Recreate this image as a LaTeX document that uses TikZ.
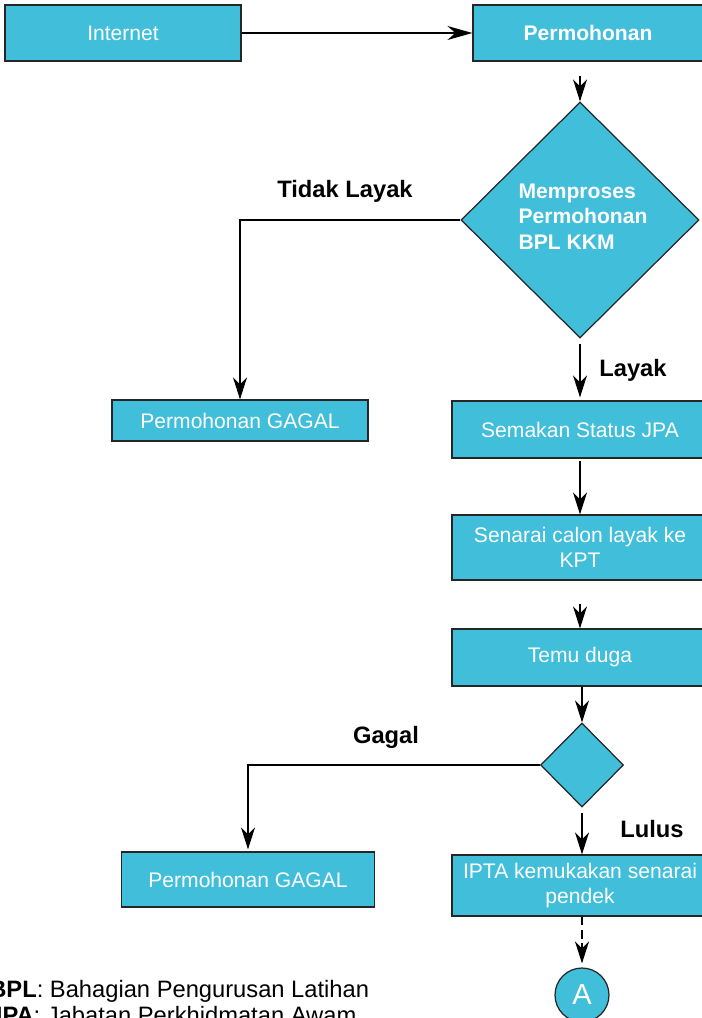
\documentclass[tikz,border=0pt]{standalone}
\usepackage{fontspec}
\setmainfont{Liberation Sans}
\usepackage{tikz}
\usetikzlibrary{shapes.geometric, arrows.meta}
\definecolor{boxcyan}{RGB}{64,190,218}

\begin{document}
\begin{tikzpicture}[x=0.02cm, y=-0.02cm,
  box/.style={draw=black!85, line width=0.7pt, fill=boxcyan, text=white, align=center, inner sep=0pt, font=\fontsize{12}{14.4}\selectfont},
  choice/.style={diamond, draw=black!85, line width=0.7pt, fill=boxcyan, text=white, inner sep=0pt},
  lbl/.style={font=\fontsize{13.5}{16}\selectfont\bfseries},
  key/.style={anchor=base west, inner sep=0pt, font=\fontsize{13.5}{16}\selectfont},
  arr/.style={-{Stealth[length=0.44cm, width=0.28cm, inset=0.14cm]}, line width=0.7pt, black}]
\useasboundingbox (0,0) rectangle (701,1018);
\node [box, minimum width=4.72cm, minimum height=1.12cm] (internet) at (123,33) {Internet};
\node [box, minimum width=4.6cm, minimum height=1.12cm, font=\fontsize{12}{14.4}\selectfont\bfseries] (perm) at (588,33) {Permohonan};
\node [choice, minimum width=4.76cm, minimum height=4.72cm, align=left, font=\fontsize{12}{14.4}\selectfont\bfseries] (proses) at (580,220) {\hspace*{0.12cm}Memproses\\\hspace*{0.12cm}Permohonan\\\hspace*{0.12cm}BPL KKM\rule[-0.14cm]{0pt}{0pt}};
\node [lbl] (tidak) at (345,191) {Tidak Layak};
\node [box, minimum width=5.12cm, minimum height=0.82cm] (gagalA) at (240,420.5) {Permohonan GAGAL};
\node [lbl] (layak) at (633,370) {Layak};
\node [box, minimum width=5.12cm, minimum height=1.14cm] (semak) at (580,429.5) {Semakan Status JPA};
\node [box, minimum width=5.12cm, minimum height=1.3cm] (senarai) at (580,547.5) {Senarai calon layak ke\\KPT};
\node [box, minimum width=5.12cm, minimum height=1.14cm] (temu) at (580,657.5) {Temu duga};
\node [choice, minimum width=1.66cm, minimum height=1.68cm] (cek) at (582,765) {};
\node [lbl] (gagal) at (386,737) {Gagal};
\node [box, minimum width=5.06cm, minimum height=1.1cm] (gagalB) at (248,879.5) {Permohonan GAGAL};
\node [lbl] (lulus) at (652,829) {Lulus};
\node [box, minimum width=5.12cm, minimum height=1.22cm] (ipta) at (580,885.5) {IPTA kemukakan senarai\\pendek};
\node [circle, draw=black!85, line width=0.7pt, fill=boxcyan, text=white, inner sep=0pt, minimum size=1.08cm, font=\fontsize{16.5}{18}\selectfont] (circA) at (582,995) {A};
\node [key] (keyBPL) at (-11,997) {\textbf{BPL}: Bahagian Pengurusan Latihan};
\node [key] (keyJPA) at (-11,1023) {\textbf{JPA}: Jabatan Perkhidmatan Awam};

\draw [arr, -{Stealth[length=0.5cm, width=0.28cm, inset=0.16cm]}] (internet) -- (perm);
\draw [arr, shorten <=0.28cm] (perm.south -| proses.north) -- (proses.north);
\draw [arr] (proses.west) -| (gagalA.north);
\draw [arr, shorten <=0.1cm, shorten >=0.06cm] (proses.south) -- (semak.north);
\draw [arr, shorten <=0.04cm] (semak.south) -- (senarai.north);
\draw [arr, shorten <=0.46cm] (senarai.south) -- (temu.north);
\draw [arr] (temu.south -| cek.north) -- (cek.north);
\draw [arr, shorten >=0.04cm] (cek.west) -| (gagalB.north);
\draw [arr, shorten <=0.1cm] (cek.south) -- (cek.south |- ipta.north);
\draw [arr, line width=1.4pt, dash pattern=on 5pt off 2.5pt, shorten >=0.08cm] (ipta.south -| circA.north) -- (circA.north); %dashed
\end{tikzpicture}
\end{document}
